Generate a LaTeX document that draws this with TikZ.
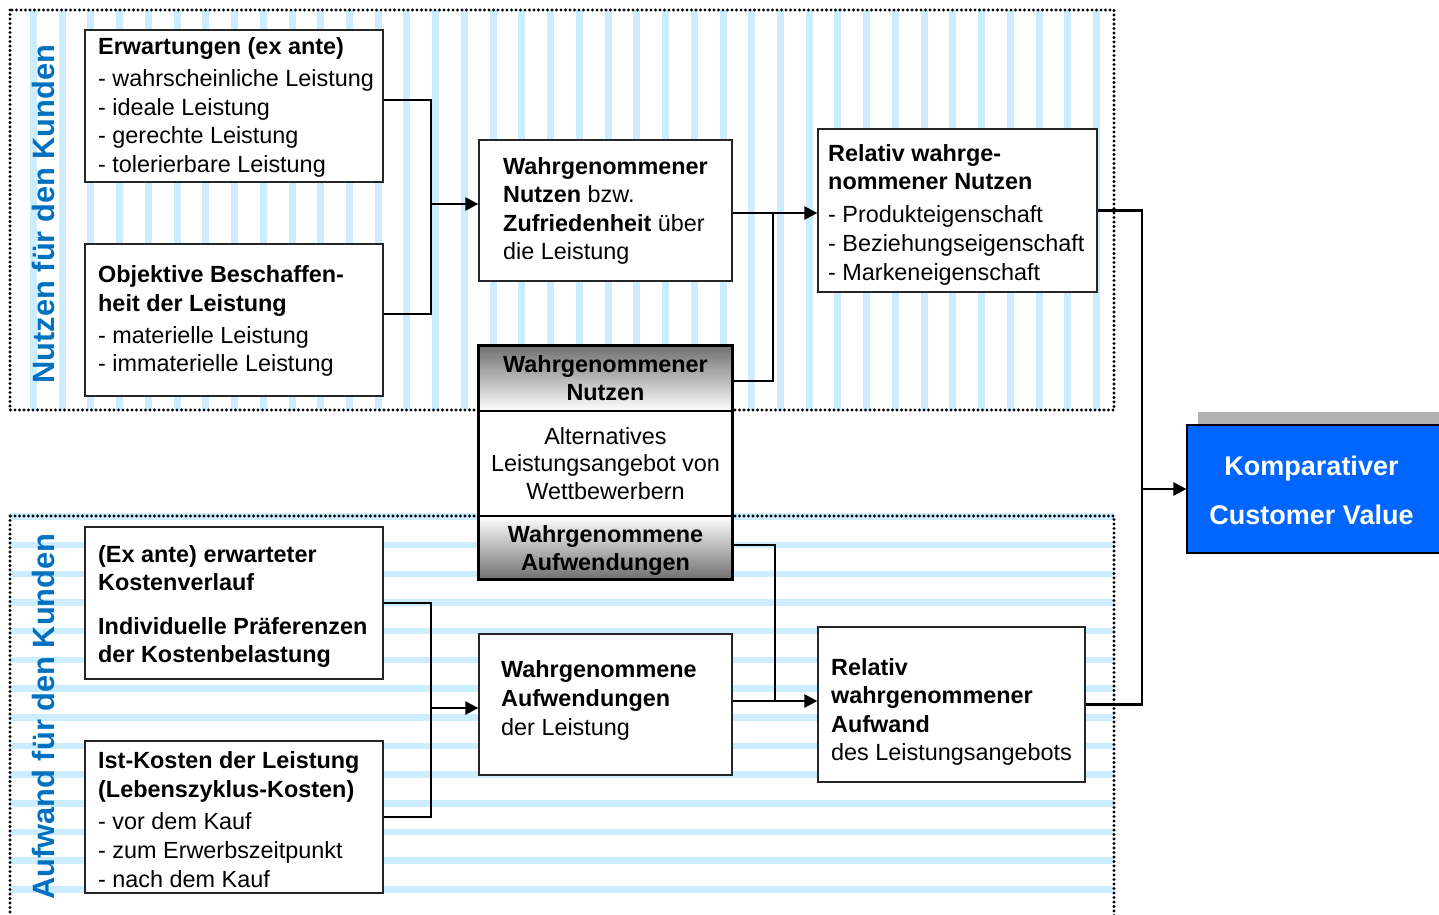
\documentclass[tikz,border=0pt]{standalone}
\usepackage{fontspec}
\setmainfont{Liberation Sans}
\usetikzlibrary{arrows.meta}
\definecolor{stripe}{RGB}{204,236,255}
\definecolor{labelblue}{RGB}{0,112,192}
\definecolor{cvblue}{RGB}{0,102,255}
\definecolor{shadowgray}{RGB}{178,178,178}
\definecolor{shadegray}{RGB}{112,112,112}
\begin{document}
\begin{tikzpicture}[x=1pt,y=-1pt,
  body/.style={font=\fontsize{23.4}{28.6}\selectfont},
  box/.style={draw=black!85, line width=1.3pt, fill=white, inner sep=0pt},
  txt/.style={body, align=left, anchor=west, inner sep=0pt},
  ctxt/.style={body, align=center, inner sep=0pt},
  conn/.style={line width=2.4pt},
  arr/.style={conn, -{Triangle[length=13pt,width=13pt]}},
  region/.style={line width=3.1pt, line cap=round, dash pattern=on 0pt off 4.5pt},
  sidelabel/.style={rotate=90, text=labelblue, font=\fontsize{30.8}{31}\selectfont\bfseries, inner sep=0pt}]
\useasboundingbox (0,0) rectangle (1439,914);

% striped backgrounds of the two areas
\foreach \k in {0,...,37}
  \fill[stripe] ({30+\k*28.73},10) rectangle ++(7,400);
\foreach \k in {0,...,13}
  \fill[stripe] (10,{513.3+\k*28.67}) rectangle ++(1104,6.5);

% dotted area frames
\draw[region] (10,10) rectangle (1114,410);
\draw[region] (10,516) rectangle (1114,940);

% vertical area labels
\node[sidelabel] (lblNutzen) at (43,214) {Nutzen für den Kunden};
\node[sidelabel] (lblAufwand) at (43,716.5) {Aufwand für den Kunden};

% upper boxes
\node[box, minimum width=298pt, minimum height=152pt] (erw) at (234,106) {};
\node[txt] (erwT) at (98,107.5) {\textbf{Erwartungen (ex ante)}\\[3.4pt]- wahrscheinliche Leistung\\- ideale Leistung\\- gerechte Leistung\\- tolerierbare Leistung};

\node[box, minimum width=298pt, minimum height=152pt] (obj) at (234,320) {};
\node[txt] (objT) at (98,321) {\textbf{Objektive Beschaffen-}\\\textbf{heit der Leistung}\\[3.4pt]- materielle Leistung\\- immaterielle Leistung};

\node[box, minimum width=253pt, minimum height=141pt] (nutzen) at (605.5,210.5) {};
\node[txt] (nutzenT) at (503,211) {\textbf{Wahrgenommener}\\\textbf{Nutzen} bzw.\\\textbf{Zufriedenheit} über\\die Leistung};

\node[box, minimum width=279pt, minimum height=163pt] (relN) at (957.5,210.5) {};
\node[txt] (relNT) at (828,214.5) {\textbf{Relativ wahrge-}\\\textbf{nommener Nutzen}\\[4.6pt]- Produkteigenschaft\\- Beziehungseigenschaft\\- Markeneigenschaft};

% lower boxes
\node[box, minimum width=298pt, minimum height=152pt] (exa) at (234,603) {};
\node[txt] (exaT) at (98,606.5) {\textbf{(Ex ante) erwarteter}\\\textbf{Kostenverlauf}\\[14.5pt]\textbf{Individuelle Präferenzen}\\\textbf{der Kostenbelastung}};

\node[box, minimum width=298pt, minimum height=152pt] (ist) at (234,817) {};
\node[txt] (istT) at (98,819.5) {\textbf{Ist-Kosten der Leistung}\\\textbf{(Lebenszyklus-Kosten)}\\[4pt]- vor dem Kauf\\- zum Erwerbszeitpunkt\\- nach dem Kauf};

\node[box, minimum width=253pt, minimum height=141pt] (aufw) at (605.5,704.5) {};
\node[txt] (aufwT) at (501,700.5) {\textbf{Wahrgenommene}\\\textbf{Aufwendungen}\\der Leistung};

\node[box, minimum width=267pt, minimum height=155pt] (relA) at (951.5,704.5) {};
\node[txt] (relAT) at (831,712) {\textbf{Relativ}\\\textbf{wahrgenommener}\\\textbf{Aufwand}\\des Leistungsangebots};

% central comparison box
\node[inner sep=0pt, minimum width=253pt, minimum height=65pt, top color=shadegray, bottom color=white] (cN) at (605.5,378.5) {};
\node[inner sep=0pt, minimum width=253pt, minimum height=105pt, fill=white] (cA) at (605.5,463.5) {};
\node[inner sep=0pt, minimum width=253pt, minimum height=63pt, top color=white, bottom color=shadegray] (cW) at (605.5,547.5) {};
\draw[line width=1.5pt] (cN.south west) -- (cN.south east);
\draw[line width=1.5pt] (cW.north west) -- (cW.north east);
\draw[line width=3pt] (cN.north west) rectangle (cW.south east);
\node[ctxt, font=\fontsize{23.4}{28}\selectfont\bfseries] (cNT) at (605.5,378.5) {Wahrgenommener\\Nutzen};
\node[ctxt, font=\fontsize{23.4}{27.5}\selectfont] (cAT) at (605.5,463.5) {Alternatives\\Leistungsangebot von\\Wettbewerbern};
\node[ctxt, font=\fontsize{23.4}{28}\selectfont\bfseries] (cWT) at (605.5,550) {Wahrgenommene\\Aufwendungen};

% result box with its shadow bar
\fill[shadowgray] (1198,412) rectangle (1445,426);
\node[draw=black, line width=1.2pt, fill=cvblue, inner sep=0pt, minimum width=259pt, minimum height=128pt] (cv) at (1316.5,489) {};
\node[ctxt, text=white, font=\fontsize{27}{29}\selectfont\bfseries] (cvT) at (1311.5,490) {Komparativer\\[20pt]Customer Value};

% connectors, upper part
\coordinate (jA) at (431,204);
\draw[conn] ([yshift=6pt]erw.east) -| (jA) |- ([yshift=6pt]obj.east);
\draw[arr] (jA) -- (jA -| nutzen.west);
\coordinate (jB) at (773,213);
\draw[arr] (nutzen.east |- jB) -- (relN.west |- jB);
\draw[conn] ([yshift=-2.5pt]cN.east) -| (jB);

% connectors, lower part
\coordinate (jD) at (431,708);
\draw[conn] (exa.east) -| (jD) |- (ist.east);
\draw[arr] (jD) -- (jD -| aufw.west);
\coordinate (jE) at (775,701);
\draw[arr] (aufw.east |- jE) -- (relA.west |- jE);
\draw[conn] ([yshift=2.5pt]cW.east) -| (jE);

% connectors into the result
\coordinate (jC) at (1142,489);
\draw[conn] (relN.east) -| (jC) |- (relA.east);
\draw[arr] (jC) -- (cv.west |- jC);
\end{tikzpicture}
\end{document}
